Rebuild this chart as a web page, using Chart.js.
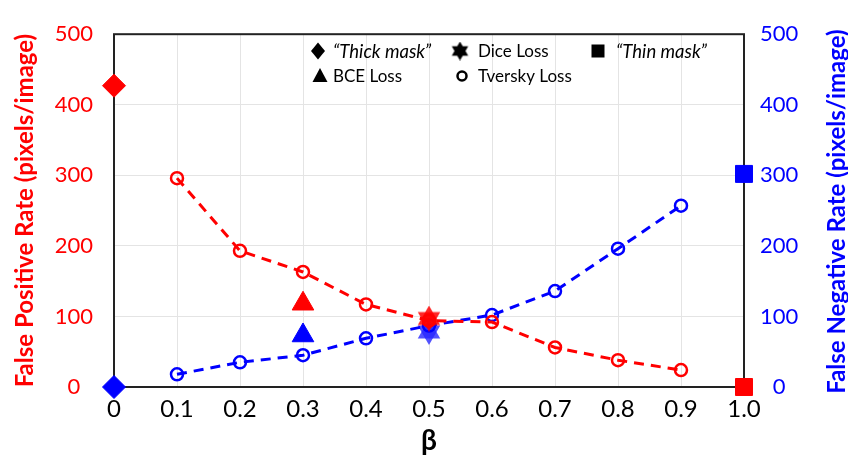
<!DOCTYPE html>
<html>
<head>
<meta charset="utf-8">
<script src="https://cdn.jsdelivr.net/npm/chart.js@4.4.1/dist/chart.umd.min.js"></script>
<style>
  html, body { margin: 0; padding: 0; background: #fff; }
  #wrap { width: 848px; height: 464px; position: relative; }
</style>
</head>
<body>
<div id="wrap"><canvas id="chart"></canvas></div>
<script>
// beta values and tick labels
const betas = [0.1, 0.2, 0.3, 0.4, 0.5, 0.6, 0.7, 0.8, 0.9];
const xTickLabels = ['0', '0.1', '0.2', '0.3', '0.4', '0.5', '0.6', '0.7', '0.8', '0.9', '1.0'];

// Tversky loss, false positive (left axis) / false negative (right axis)
const tverskyFP = [296, 193, 163, 117, 94, 92, 56, 38, 24];
const tverskyFN = [18, 35, 45, 69, 87, 102, 136, 196, 257];

// single-point methods
const bceBeta = 0.3,  bceFP = 118,  bceFN = 73;
const diceBeta = 0.5, diceFP = 97,  diceFN = 78;
const thickBeta = 0,  thickFP = 427, thickFN = 0;
const thinBeta = 1.0, thinFP = 0,   thinFN = 302;

const legendLabels = ['\u201cThick mask\u201d', 'Dice Loss', '\u201cThin mask\u201d', 'BCE Loss', 'Tversky Loss'];

const RED = '#ff0000';
const BLUE = '#0000ff';
const FONT = 'Lato, "Open Sans", sans-serif';

// six-pointed star marker
function hexagram(color, size) {
  const c = document.createElement('canvas');
  c.width = size; c.height = size;
  const g = c.getContext('2d');
  const r = size / 2, cx = size / 2, cy = size / 2;
  g.fillStyle = color;
  [-Math.PI / 2, Math.PI / 2].forEach(start => {
    g.beginPath();
    for (let k = 0; k < 3; k++) {
      const a = start + k * 2 * Math.PI / 3;
      const px = cx + r * Math.cos(a), py = cy + r * Math.sin(a);
      k === 0 ? g.moveTo(px, py) : g.lineTo(px, py);
    }
    g.closePath();
    g.fill();
  });
  return c;
}

const pts = (xs, ys) => xs.map((x, i) => ({ x, y: ys[i] }));

const circleStyle = (color) => ({
  pointStyle: 'circle', pointRadius: 6, pointBorderWidth: 2.5,
  pointBackgroundColor: 'rgba(255,255,255,0)', pointBorderColor: color,
});

const datasets = [
  { label: 'Dice Loss FP', data: [{ x: diceBeta, y: diceFP }], yAxisID: 'y',
    pointStyle: hexagram('rgba(255,0,0,0.85)', 26), pointRadius: 13, showLine: false, clip: false },
  { label: 'Tversky FP', data: pts(betas, tverskyFP), yAxisID: 'y', showLine: true,
    borderColor: RED, borderWidth: 3, borderDash: [10, 7], ...circleStyle(RED), clip: false },
  { label: 'Tversky FN', data: pts(betas, tverskyFN), yAxisID: 'y1', showLine: true,
    borderColor: BLUE, borderWidth: 3, borderDash: [10, 7], ...circleStyle(BLUE), clip: false },
  { label: 'Dice Loss FN', data: [{ x: diceBeta, y: diceFN }], yAxisID: 'y1',
    pointStyle: hexagram('rgba(40,40,255,0.8)', 26), pointRadius: 13, showLine: false, clip: false },
  { label: 'BCE FP', data: [{ x: bceBeta, y: bceFP }], yAxisID: 'y', pointStyle: 'triangle',
    pointRadius: 12.5, backgroundColor: RED, borderColor: RED, showLine: false, clip: false },
  { label: 'BCE FN', data: [{ x: bceBeta, y: bceFN }], yAxisID: 'y1', pointStyle: 'triangle',
    pointRadius: 12.5, backgroundColor: BLUE, borderColor: BLUE, showLine: false, clip: false },
  { label: 'Thick FP', data: [{ x: thickBeta, y: thickFP }], yAxisID: 'y', pointStyle: 'rectRot',
    pointRadius: 11.5, backgroundColor: RED, borderColor: RED, showLine: false, clip: false },
  { label: 'Thick FN', data: [{ x: thickBeta, y: thickFN }], yAxisID: 'y1', pointStyle: 'rectRot',
    pointRadius: 11.5, backgroundColor: BLUE, borderColor: BLUE, showLine: false, clip: false },
  { label: 'Thin FP', data: [{ x: thinBeta, y: thinFP }], yAxisID: 'y', pointStyle: 'rect',
    pointRadius: 12, backgroundColor: RED, borderColor: RED, showLine: false, clip: false },
  { label: 'Thin FN', data: [{ x: thinBeta, y: thinFN }], yAxisID: 'y1', pointStyle: 'rect',
    pointRadius: 12, backgroundColor: BLUE, borderColor: BLUE, showLine: false, clip: false },
];

// box around the plot, right-hand title, in-plot legend
const decorations = {
  id: 'decorations',
  beforeDatasetsDraw(chart) {
    const { ctx, chartArea: a } = chart;
    ctx.save();
    ctx.strokeStyle = '#222';
    ctx.lineWidth = 2;
    ctx.strokeRect(a.left, a.top, a.right - a.left, a.bottom - a.top);
    ctx.restore();
  },
  afterDraw(chart) {
    const { ctx, chartArea: a } = chart;
    ctx.save();
    // right axis title, reading bottom to top
    ctx.translate(837, (a.top + a.bottom) / 2 + 1);
    ctx.rotate(-Math.PI / 2);
    ctx.fillStyle = BLUE;
    ctx.font = `bold 24px ${FONT}`;
    ctx.textAlign = 'center';
    ctx.textBaseline = 'middle';
    ctx.fillText('False Negative Rate (pixels/image)', 0, 0);
    ctx.restore();

    // legend
    ctx.save();
    ctx.fillStyle = '#000';
    ctx.strokeStyle = '#000';
    ctx.textBaseline = 'middle';
    const items = [
      { sym: 'diamond', mx: 318, tx: 333, y: 51, italic: true },
      { sym: 'star',    mx: 460, tx: 478, y: 51, italic: false },
      { sym: 'square',  mx: 598, tx: 616, y: 51, italic: true },
      { sym: 'triangle', mx: 320, tx: 333, y: 76, italic: false },
      { sym: 'circle',  mx: 462, tx: 478, y: 76, italic: false },
    ];
    items.forEach((it, i) => {
      const { mx, y } = it;
      ctx.beginPath();
      if (it.sym === 'diamond') {
        ctx.moveTo(mx, y - 8.5); ctx.lineTo(mx + 7, y); ctx.lineTo(mx, y + 8.5); ctx.lineTo(mx - 7, y);
        ctx.closePath(); ctx.fill();
      } else if (it.sym === 'square') {
        ctx.fillRect(mx - 6.5, y - 6.5, 13, 13);
      } else if (it.sym === 'triangle') {
        ctx.moveTo(mx, y - 8); ctx.lineTo(mx + 7.5, y + 6); ctx.lineTo(mx - 7.5, y + 6);
        ctx.closePath(); ctx.fill();
      } else if (it.sym === 'circle') {
        ctx.lineWidth = 2.5;
        ctx.arc(mx, y, 4.5, 0, Math.PI * 2);
        ctx.stroke();
      } else if (it.sym === 'star') {
        ctx.drawImage(hexagram('#000', 19), mx - 9.5, y - 9.5);
      }
      ctx.font = it.italic ? `italic 18.5px ${FONT}` : `17px ${FONT}`;
      ctx.fillText(legendLabels[i], it.tx, y + 1);
    });
    ctx.restore();
  },
};

new Chart(document.getElementById('chart'), {
  type: 'scatter',
  data: { datasets },
  options: {
    responsive: true,
    maintainAspectRatio: false,
    animation: false,
    layout: { padding: { top: 19, left: 0, right: 0, bottom: 0 } },
    plugins: { legend: { display: false }, tooltip: { enabled: false } },
    scales: {
      x: {
        type: 'linear', min: 0, max: 1,
        afterBuildTicks: (s) => { s.ticks = xTickLabels.map((_, i) => ({ value: i / 10 })); },
        afterFit: (s) => { s.height = 77; },
        ticks: { callback: (v, i) => xTickLabels[i], color: '#000', padding: 8,
                 font: { family: FONT, size: 24 }, maxRotation: 0, autoSkip: false },
        grid: { color: '#e4e4e4', lineWidth: 1, drawTicks: false },
        border: { display: false },
        title: { display: true, text: '\u03b2', color: '#000',
                 font: { family: FONT, size: 28, weight: 'bold' }, padding: { top: 0, bottom: 6 } },
      },
      y: {
        position: 'left', min: 0, max: 500,
        afterFit: (s) => { s.width = 114; },
        ticks: { stepSize: 100, color: RED, padding: 21, crossAlign: 'center',
                 font: { family: FONT, size: 22 } },
        grid: { color: '#e4e4e4', lineWidth: 1, drawTicks: false },
        border: { display: false },
        title: { display: true, text: 'False Positive Rate (pixels/image)', color: RED,
                 font: { family: FONT, size: 24, weight: 'bold' }, padding: { top: 11, bottom: 0 } },
      },
      y1: {
        position: 'right', min: 0, max: 500,
        afterFit: (s) => { s.width = 104; },
        ticks: { stepSize: 100, color: BLUE, padding: 16, crossAlign: 'center',
                 font: { family: FONT, size: 22 } },
        grid: { drawOnChartArea: false, drawTicks: false },
        border: { display: false },
      },
    },
  },
  plugins: [decorations],
});
</script>
</body>
</html>
